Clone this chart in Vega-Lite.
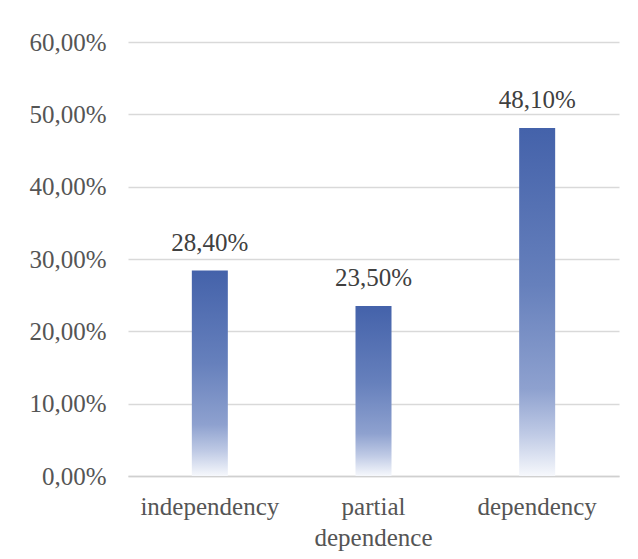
{
  "$schema": "https://vega.github.io/schema/vega-lite/v6.json",
  "width": 491,
  "height": 434,
  "autosize": "none",
  "padding": {"left": 128, "top": 42, "right": 19, "bottom": 83},
  "background": "white",
  "data": {"values": [
    {"category": "independency", "value": 0.284},
    {"category": "partial dependence", "value": 0.235},
    {"category": "dependency", "value": 0.481}
  ]},
  "config": {
    "locale": {"number": {"decimal": ",", "thousands": ".", "grouping": [3], "currency": ["", " €"]}},
    "view": {"stroke": null},
    "font": "Liberation Serif"
  },
  "encoding": {
    "x": {
      "field": "category", "type": "nominal", "sort": null,
      "scale": {"paddingInner": 0, "paddingOuter": 0},
      "axis": {
        "title": null, "labelAngle": 0, "ticks": false, "domain": true,
        "domainColor": "#D0D0D0", "domainWidth": 1.5,
        "labelFont": "Liberation Serif", "labelFontSize": 25, "labelColor": "#555555",
        "labelPadding": 18, "labelLineHeight": 31, "labelBaseline": "top",
        "labelExpr": "datum.value == 'partial dependence' ? ['partial', 'dependence'] : datum.value"
      }
    },
    "y": {
      "field": "value", "type": "quantitative",
      "scale": {"domain": [0, 0.6], "nice": false},
      "axis": {
        "title": null, "format": ".2%", "values": [0, 0.1, 0.2, 0.3, 0.4, 0.5, 0.6],
        "ticks": false, "domain": false, "grid": true,
        "gridColor": "#D9D9D9", "gridWidth": 1.5,
        "labelFont": "Liberation Serif", "labelFontSize": 25, "labelColor": "#555555",
        "labelPadding": 22
      }
    }
  },
  "layer": [
    {
      "mark": {
        "type": "bar", "size": 36,
        "color": {
          "gradient": "linear", "x1": 0, "y1": 0, "x2": 0, "y2": 1,
          "stops": [
            {"offset": 0, "color": "#4462AA"},
            {"offset": 0.45, "color": "#6680BC"},
            {"offset": 0.75, "color": "#8EA1CF"},
            {"offset": 0.88, "color": "#BFCAE5"},
            {"offset": 1, "color": "#F6F8FC"}
          ]
        }
      }
    },
    {
      "mark": {"type": "text", "baseline": "alphabetic", "dy": -20, "font": "Liberation Serif", "fontSize": 25, "color": "#404040"},
      "encoding": {"text": {"field": "value", "type": "quantitative", "format": ".2%"}}
    }
  ]
}
